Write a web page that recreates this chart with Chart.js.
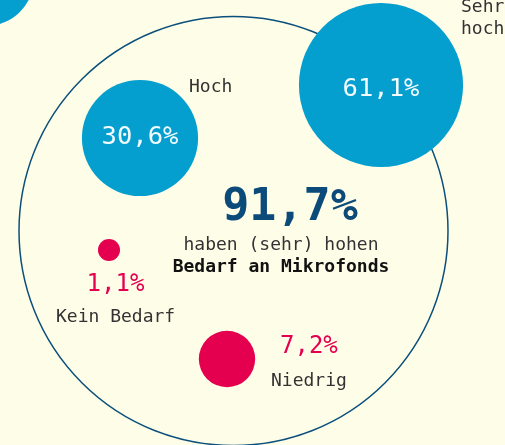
<!DOCTYPE html>
<html>
<head>
<meta charset="utf-8">
<script src="https://cdn.jsdelivr.net/npm/chart.js@4"></script>
<style>
  html, body { margin: 0; padding: 0; background: #fefde8; }
  .wrap { width: 505px; height: 445px; position: relative; }
</style>
</head>
<body>
<div class="wrap"><canvas id="bubbles"></canvas></div>
<script>
// data
const categories = ['Sehr hoch', 'Hoch', 'Niedrig', 'Kein Bedarf'];
const shares = [61.1, 30.6, 7.2, 1.1];
const shareLabels = ['61,1%', '30,6%', '7,2%', '1,1%'];
const totalHigh = '91,7%';

// bubble layout (centre of each circle, chart units = px)
const centerX = [381, 140, 227, 109];
const centerY = [85, 138, 359, 250];
const fills = ['#049fcf', '#049fcf', '#e4004f', '#e4004f'];

const radiusFor = v => 10.5 * Math.sqrt(v);

const FONT = '"DejaVu Sans Mono", "Liberation Mono", monospace';

// text labels: [text, x, y, align, size, weight, colour]
const notes = [
    [shareLabels[0], 381, 95.5, 'center', 25.5, 'normal', '#f3fbff'],
    [shareLabels[1], 140, 144, 'center', 25.5, 'normal', '#f3fbff'],
    ['Hoch', 189, 92, 'left', 18, 'normal', '#333333'],
    ['Sehr', 461, 11.5, 'left', 18, 'normal', '#333333'],
    ['hoch', 461, 34, 'left', 18, 'normal', '#333333'],
    [totalHigh, 290, 220, 'center', 45, 'bold', '#0b4a79'],
    ['haben (sehr) hohen', 281, 250, 'center', 18, 'normal', '#333333'],
    ['Bedarf an Mikrofonds', 281, 271.5, 'center', 18, 'bold', '#111111'],
    [shareLabels[3], 115.5, 291, 'center', 24, 'normal', '#e4004f'],
    ['Kein Bedarf', 56, 321.5, 'left', 18, 'normal', '#333333'],
    [shareLabels[2], 280, 353, 'left', 24, 'normal', '#e4004f'],
    ['Niedrig', 271, 386, 'left', 18, 'normal', '#333333']
];

const textPlugin = {
    id: 'notes',
    afterDatasetsDraw(chart) {
        const { ctx, scales: { x, y } } = chart;
        ctx.save();
        ctx.textBaseline = 'alphabetic';
        notes.forEach(([t, nx, ny, align, size, weight, col]) => {
            ctx.font = `${weight} ${size}px ${FONT}`;
            ctx.fillStyle = col;
            ctx.textAlign = align;
            ctx.fillText(t, x.getPixelForValue(nx), y.getPixelForValue(ny));
        });
        ctx.restore();
    }
};

new Chart(document.getElementById('bubbles'), {
    type: 'bubble',
    data: {
        datasets: [
            {
                label: 'Rahmen',
                data: [{ x: 233.5, y: 231, r: 214.5 }],
                backgroundColor: 'rgba(0,0,0,0)',
                borderColor: '#0b4f7c',
                borderWidth: 1.5,
                clip: false,
                order: 2
            },
            {
                label: 'Bedarf',
                data: categories.map((c, i) => ({ x: centerX[i], y: centerY[i], r: radiusFor(shares[i]) })),
                backgroundColor: fills,
                borderWidth: 0,
                clip: false,
                order: 0
            },
            {
                label: 'Rand',
                data: [{ x: -14, y: -22, r: 48 }],
                backgroundColor: '#049fcf',
                borderWidth: 0,
                clip: false,
                order: 1
            }
        ]
    },
    options: {
        responsive: true,
        maintainAspectRatio: false,
        animation: false,
        layout: { padding: 0, autoPadding: false },
        plugins: { legend: { display: false }, tooltip: { enabled: false } },
        elements: { point: { hoverRadius: 0 } },
        scales: {
            x: { type: 'linear', min: 0, max: 505, display: false },
            y: { type: 'linear', min: 0, max: 445, reverse: true, display: false }
        }
    },
    plugins: [textPlugin]
});
</script>
</body>
</html>
